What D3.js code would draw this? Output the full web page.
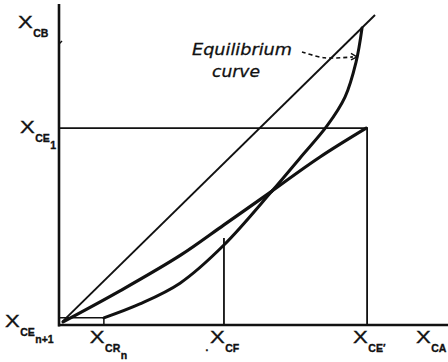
<!DOCTYPE html>
<html>
<head>
<meta charset="utf-8">
<script src="https://cdn.jsdelivr.net/npm/d3@7"></script>
<style>
  html, body { margin: 0; padding: 0; background: #fff; }
  svg { display: block; }
  .lbl { font-family: "Liberation Sans", "DejaVu Sans", sans-serif; fill: #111; stroke: #111; stroke-width: 0.35; }
  .note { font-family: "DejaVu Sans", sans-serif; font-style: italic; fill: #111; stroke: #111; stroke-width: 0.3; }
</style>
</head>
<body>
<svg id="chart" width="448" height="362"></svg>
<script>
// Composition coordinates (fraction of solute)
const diagX = [0.01, 1.0];
const diagY = [0.01, 1.0];

// Equilibrium curve (raffinate vs extract)
const eqX = [0.142, 0.256, 0.383, 0.522, 0.674, 0.763, 0.848, 0.905, 0.940, 0.959];
const eqY = [0.023, 0.068, 0.135, 0.258, 0.432, 0.539, 0.642, 0.735, 0.848, 0.958];

// Operating curve: lower branch up to the intersection, upper branch to the extract end
const opLowX = [0.013, 0.193, 0.386, 0.522, 0.674];
const opLowY = [0.010, 0.110, 0.226, 0.323, 0.432];
const opUpX = [0.674, 0.826, 0.972];
const opUpY = [0.432, 0.542, 0.635];

// Key compositions
const xCRn = 0.142, yCRn = 0.023;
const xCF = 0.522, yCFtop = 0.281;
const xCEp = 0.975, yCE1 = 0.635;
const yCB = 0.9;

// Axis labels: main letter, subscript, second-level subscript
const xTickVals = [0.142, 0.522, 0.975, 1.174];
const xTickLabels = [["X", "CR", "n"], ["X", "CF", ""], ["X", "CE\u2032", ""], ["X", "CA", ""]];
const yTickVals = [0.0, 0.635, 0.99];
const yTickLabels = [["X", "CE", "n+1"], ["X", "CE", "1"], ["X", "CB", ""]];

const svg = d3.select("#chart");
const x = d3.scaleLinear().domain([0, 1]).range([59, 375]);
const y = d3.scaleLinear().domain([0, 1]).range([325, 15]);

const ink = "#111";
const toPts = (xs, ys) => xs.map((v, i) => [x(v), y(ys[i])]);
const line = d3.line().curve(d3.curveCatmullRom.alpha(0.5));

// axes
svg.append("line").attr("x1", x(0)).attr("y1", 4).attr("x2", x(0)).attr("y2", 326.5)
  .attr("stroke", ink).attr("stroke-width", 2.6);
svg.append("line").attr("x1", x(0) - 1).attr("y1", y(0)).attr("x2", 448).attr("y2", y(0))
  .attr("stroke", ink).attr("stroke-width", 2.6);
// small mark on the vertical axis
svg.append("line").attr("x1", x(0)).attr("y1", y(yCB) - 2).attr("x2", x(0) + 3).attr("y2", y(yCB) - 5)
  .attr("stroke", ink).attr("stroke-width", 1.4);

// diagonal
svg.append("path").attr("d", line(toPts(diagX, diagY)))
  .attr("fill", "none").attr("stroke", ink).attr("stroke-width", 1.9);

// construction lines
svg.append("path")
  .attr("d", `M${x(0)},${y(yCE1)}H${x(xCEp)}V${y(0)}`)
  .attr("fill", "none").attr("stroke", ink).attr("stroke-width", 1.8);
svg.append("line").attr("x1", x(xCF)).attr("y1", y(yCFtop)).attr("x2", x(xCF)).attr("y2", y(0))
  .attr("stroke", ink).attr("stroke-width", 1.8);
svg.append("path")
  .attr("d", `M${x(0)},${y(yCRn)}H${x(xCRn)}V${y(0)}`)
  .attr("fill", "none").attr("stroke", ink).attr("stroke-width", 1.5);

// equilibrium and operating curves
svg.append("path").attr("d", line(toPts(eqX, eqY)))
  .attr("fill", "none").attr("stroke", ink).attr("stroke-width", 3).attr("stroke-linecap", "round");
[[opLowX, opLowY], [opUpX, opUpY]].forEach(([xs, ys]) => {
  svg.append("path").attr("d", line(toPts(xs, ys)))
    .attr("fill", "none").attr("stroke", ink).attr("stroke-width", 3.2).attr("stroke-linecap", "round");
});

// subscripted label helper
function subLabel(g, parts, sizes) {
  const t = g.append("text").attr("class", "lbl");
  t.append("tspan").text(parts[0]).attr("font-size", sizes[0])
    .attr("textLength", sizes[0] * 0.92).attr("lengthAdjust", "spacingAndGlyphs");
  t.append("tspan").text(parts[1]).attr("font-size", sizes[1]).attr("font-weight", "bold")
    .attr("dy", sizes[1] * 0.9).attr("dx", 0.5);
  if (parts[2]) {
    t.append("tspan").text(parts[2]).attr("font-size", sizes[1]).attr("font-weight", "bold")
      .attr("dy", sizes[1] * 0.6).attr("dx", 0.5);
  }
  return t;
}

// x-axis labels
xTickVals.forEach((v, i) => {
  const g = svg.append("g").attr("transform", `translate(${x(v) - 14},343)`);
  subLabel(g, xTickLabels[i], [16, 10.5]);
});
svg.append("text").attr("class", "lbl").attr("x", x(xCF) - 18.5).attr("y", 351)
  .attr("font-size", 10).attr("font-weight", "bold").text(".");

// y-axis labels
const yLabelLeft = [5, 20, 18];
const yLabelBase = [327, 133, 28];
yTickVals.forEach((v, i) => {
  const g = svg.append("g").attr("transform", `translate(${yLabelLeft[i]},${yLabelBase[i]})`);
  subLabel(g, yTickLabels[i], [16, 10.5]);
});

// annotation
svg.append("text").attr("class", "note").attr("x", 192).attr("y", 55)
  .attr("font-size", 16).attr("textLength", 100).attr("lengthAdjust", "spacingAndGlyphs")
  .text("Equilibrium");
svg.append("text").attr("class", "note").attr("x", 212).attr("y", 77)
  .attr("font-size", 16).attr("textLength", 48).attr("lengthAdjust", "spacingAndGlyphs")
  .text("curve");

const arrowPts = [[0.769, 0.881], [0.84, 0.862], [0.93, 0.865]].map(d => [x(d[0]), y(d[1])]);
svg.append("path").attr("d", d3.line().curve(d3.curveCatmullRom)(arrowPts))
  .attr("fill", "none").attr("stroke", ink).attr("stroke-width", 1.6).attr("stroke-dasharray", "4,3");
const tip = [x(0.943), y(0.865)];
svg.append("path")
  .attr("d", `M${tip[0] - 6},${tip[1] - 3.5}L${tip[0]},${tip[1]}L${tip[0] - 6},${tip[1] + 3}`)
  .attr("fill", "none").attr("stroke", ink).attr("stroke-width", 1.4);
</script>
</body>
</html>
